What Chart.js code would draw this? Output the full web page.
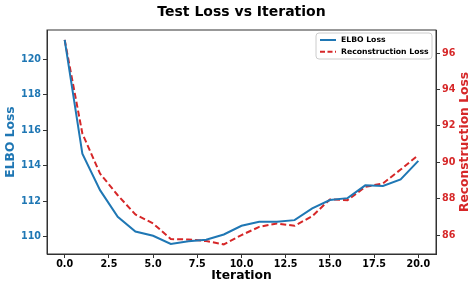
<!DOCTYPE html>
<html><head><meta charset="utf-8">
<script src="https://cdn.jsdelivr.net/npm/chart.js@4/dist/chart.umd.min.js"></script>
<style>html,body{margin:0;padding:0;background:#fff}#wrap{width:476px;height:288px}</style>
</head><body><div id="wrap"><canvas id="c" width="476" height="288"></canvas></div>
<script>
const iterations = [0,1,2,3,4,5,6,7,8,9,10,11,12,13,14,15,16,17,18,19,20];
const elboLoss = [121.1,114.69,112.63,111.13,110.30,110.06,109.6,109.75,109.83,110.13,110.62,110.85,110.85,110.94,111.6,112.07,112.18,112.9,112.87,113.23,114.28];
const reconLoss = [96.73,91.58,89.38,88.19,87.13,86.64,85.78,85.76,85.67,85.49,86.0,86.45,86.64,86.51,87.04,87.96,87.92,88.65,88.84,89.6,90.39];
const xTicks = [0,2.5,5,7.5,10,12.5,15,17.5,20];
const elboTicks = [110,112,114,116,118,120];
const reconTicks = [86,88,90,92,94,96];
const titleText = 'Test Loss vs Iteration';
const seriesNames = ['ELBO Loss','Reconstruction Loss'];
const rightTitle = 'Reconstruction Loss';

const BLUE = '#1f77b4', RED = '#d62728', AX = '#333333';
const FONT = 'DejaVu Sans';
const tickFont = {family: FONT, size: 9.6, weight: 'bold'};
const axTitleFont = {family: FONT, size: 12.3, weight: 'bold'};

const extra = {
  id: 'extra',
  afterDraw(chart) {
    const {ctx, chartArea: a} = chart;
    ctx.save();
    ctx.strokeStyle = AX; ctx.lineWidth = 1;
    ctx.strokeRect(a.left, a.top, a.right - a.left, a.bottom - a.top);
    // title
    ctx.fillStyle = '#000';
    ctx.font = 'bold 14px "' + FONT + '"';
    ctx.textAlign = 'center'; ctx.textBaseline = 'middle';
    ctx.fillText(titleText, (a.left + a.right) / 2, 12);
    // right axis title, reading bottom to top
    ctx.save();
    ctx.translate(465, (a.top + a.bottom) / 2);
    ctx.rotate(-Math.PI / 2);
    ctx.fillStyle = RED;
    ctx.font = 'bold 12.3px "' + FONT + '"';
    ctx.fillText(rightTitle, 0, 0);
    ctx.restore();
    // legend
    const bx = 316, by = 33, bw = 116, bh = 26, r = 3;
    ctx.beginPath();
    ctx.moveTo(bx + r, by); ctx.lineTo(bx + bw - r, by); ctx.quadraticCurveTo(bx + bw, by, bx + bw, by + r);
    ctx.lineTo(bx + bw, by + bh - r); ctx.quadraticCurveTo(bx + bw, by + bh, bx + bw - r, by + bh);
    ctx.lineTo(bx + r, by + bh); ctx.quadraticCurveTo(bx, by + bh, bx, by + bh - r);
    ctx.lineTo(bx, by + r); ctx.quadraticCurveTo(bx, by, bx + r, by);
    ctx.fillStyle = 'rgba(255,255,255,0.8)'; ctx.fill();
    ctx.strokeStyle = '#cccccc'; ctx.lineWidth = 1; ctx.stroke();
    ctx.lineWidth = 2;
    ctx.strokeStyle = BLUE; ctx.setLineDash([]);
    ctx.beginPath(); ctx.moveTo(320, 40); ctx.lineTo(336, 40); ctx.stroke();
    ctx.strokeStyle = RED; ctx.setLineDash([5, 2.5]);
    ctx.beginPath(); ctx.moveTo(320, 51.7); ctx.lineTo(336, 51.7); ctx.stroke();
    ctx.setLineDash([]);
    ctx.fillStyle = '#000';
    ctx.font = 'bold 7.7px "' + FONT + '"';
    ctx.textAlign = 'left';
    ctx.fillText(seriesNames[0], 341, 40);
    ctx.fillText(seriesNames[1], 341, 51.7);
    ctx.restore();
  }
};

function setTicks(arr) { return function(scale) { scale.ticks = arr.map(v => ({value: v})); }; }

new Chart(document.getElementById('c'), {
  type: 'line',
  data: {
    datasets: [
      {label: seriesNames[0], data: iterations.map((x, i) => ({x, y: elboLoss[i]})), borderColor: BLUE, backgroundColor: BLUE, borderWidth: 2, pointRadius: 0, tension: 0, yAxisID: 'y'},
      {label: seriesNames[1], data: iterations.map((x, i) => ({x, y: reconLoss[i]})), borderColor: RED, backgroundColor: RED, borderWidth: 2, borderDash: [6, 3], pointRadius: 0, tension: 0, yAxisID: 'y2'}
    ]
  },
  options: {
    responsive: false, animation: false, devicePixelRatio: 1,
    layout: {padding: {top: 30, left: 0, right: 0, bottom: 0}},
    plugins: {legend: {display: false}, title: {display: false}, tooltip: {enabled: false}},
    scales: {
      x: {
        type: 'linear', min: -1, max: 21,
        afterBuildTicks: setTicks(xTicks),
        afterFit: s => { s.height = 34; },
        ticks: {color: '#000', font: tickFont, padding: 1, maxRotation: 0, autoSkip: false, callback: v => v.toFixed(1)},
        grid: {display: true, drawOnChartArea: false, drawTicks: true, tickLength: 4, color: AX},
        border: {display: true, color: AX, width: 1},
        title: {display: true, text: 'Iteration', color: '#000', font: axTitleFont, padding: {top: 0, bottom: 4.9}}
      },
      y: {
        type: 'linear', position: 'left', min: 109.03, max: 121.66,
        afterBuildTicks: setTicks(elboTicks),
        afterFit: s => { s.width = 47; },
        ticks: {color: BLUE, font: tickFont, padding: 2, callback: v => String(v)},
        grid: {display: true, drawOnChartArea: false, drawTicks: true, tickLength: 4, color: AX},
        border: {display: true, color: AX, width: 1},
        title: {display: true, text: 'ELBO Loss', color: BLUE, font: axTitleFont, padding: {top: 3.3, bottom: 0}}
      },
      y2: {
        type: 'linear', position: 'right', min: 84.96, max: 97.27,
        afterBuildTicks: setTicks(reconTicks),
        afterFit: s => { s.width = 40; },
        ticks: {color: RED, font: tickFont, padding: 2, callback: v => String(v)},
        grid: {display: true, drawOnChartArea: false, drawTicks: true, tickLength: 4, color: AX},
        border: {display: true, color: AX, width: 1},
        title: {display: false}
      }
    }
  },
  plugins: [extra]
});
</script></body></html>
